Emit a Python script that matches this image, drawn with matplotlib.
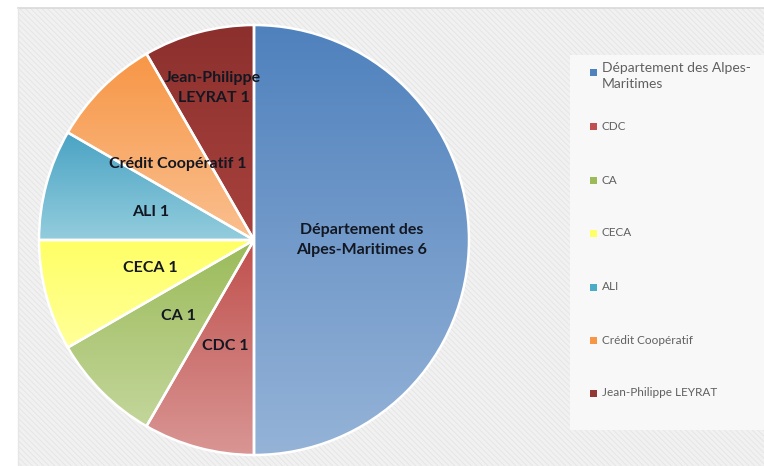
import numpy as np
import matplotlib.pyplot as plt
from matplotlib.colors import to_rgb
from matplotlib.patches import Rectangle

# ----------------------------
# Data
# ----------------------------

categories = [
    "Département des Alpes-Maritimes", "CDC", "CA", "CECA",
    "ALI", "Crédit Coopératif", "Jean-Philippe LEYRAT"
]
values = [6, 1, 1, 1, 1, 1, 1]
slice_labels = [
    "Département des\nAlpes-Maritimes 6", "CDC 1", "CA 1", "CECA 1",
    "ALI 1", "Crédit Coopératif 1", "Jean-Philippe\nLEYRAT 1"
]
legend_labels = [
    "Département des Alpes-\nMaritimes", "CDC", "CA", "CECA",
    "ALI", "Crédit Coopératif", "Jean-Philippe LEYRAT"
]

# gradient colours (top -> bottom of each slice)
top_colors = ["#4f81bd", "#c0504d", "#9bbb59", "#ffff66",
              "#4aa3c4", "#f79646", "#8c302d"]
bottom_colors = ["#95b3d7", "#d99694", "#c3d69b", "#ffff99",
                 "#93cddd", "#fac090", "#a8423e"]
legend_colors = ["#4f81bd", "#c0504d", "#9bbb59", "#ffff66",
                 "#4bacc6", "#f79646", "#943634"]
label_radius = [0.5, 0.51, 0.5, 0.5, 0.5, 0.5, 0.73]

W, H = 764, 466

# ----------------------------
# Figure + background
# ----------------------------

fig = plt.figure(figsize=(W / 100, H / 100), dpi=100)
fig.patch.set_facecolor("white")

plt.rcParams["hatch.linewidth"] = 0.6
bg = Rectangle((18 / W, 0), 1 - 18 / W, (H - 8) / H,
               transform=fig.transFigure, facecolor="#f1f1f1",
               edgecolor="#e4e4e4", hatch="\\\\\\\\\\\\", linewidth=0,
               zorder=-10)
fig.patches.append(bg)
fig.add_artist(plt.Line2D([18 / W, 1], [(H - 8) / H] * 2,
                          transform=fig.transFigure, color="#d9d9d9",
                          lw=1.2, zorder=-9))
fig.add_artist(plt.Line2D([18 / W] * 2, [0, (H - 8) / H],
                          transform=fig.transFigure, color="#e6e6e6",
                          lw=1, zorder=-9))

leg_box = Rectangle((570 / W, (H - 430) / H), 194 / W, 375 / H,
                    transform=fig.transFigure, facecolor="#f8f8f8",
                    edgecolor="none", zorder=-8)
fig.patches.append(leg_box)

# ----------------------------
# Pie
# ----------------------------

ax = fig.add_axes([39 / W, 11 / H, 430 / W, 430 / H])
ax.set_zorder(1)

wedges, _ = ax.pie(values, startangle=90, counterclock=False,
                   wedgeprops=dict(edgecolor="white", linewidth=1.8))

for i, w in enumerate(wedges):
    x0, y0, x1, y1 = w.get_path().get_extents().extents
    c_top = np.array(to_rgb(top_colors[i]))
    c_bot = np.array(to_rgb(bottom_colors[i]))
    t = np.linspace(0, 1, 256)[:, None, None]
    grad = c_top[None, None, :] * (1 - t) + c_bot[None, None, :] * t
    im = ax.imshow(grad, extent=[x0, x1, y0, y1], origin="upper",
                   aspect="auto", zorder=1, interpolation="bilinear")
    im.set_clip_path(w)
    w.set_facecolor("none")
    w.set_zorder(2)

    mid = np.deg2rad((w.theta1 + w.theta2) / 2)
    r = label_radius[i]
    ax.text(r * np.cos(mid), r * np.sin(mid), slice_labels[i],
            ha="center", va="center", fontsize=11.5, fontweight="bold",
            family="Lato", color="#131722", linespacing=1.55, zorder=3)

ax.set_xlim(-1, 1)
ax.set_ylim(-1, 1)
ax.set_aspect("equal")
ax.axis("off")

# ----------------------------
# Legend
# ----------------------------

leg_y = [72, 126, 180, 233, 287, 340, 393]
for i, lab in enumerate(legend_labels):
    y = 1 - leg_y[i] / H
    fig.patches.append(Rectangle((590 / W, y - 3.5 / H), 7 / W, 7 / H,
                                 transform=fig.transFigure,
                                 facecolor=legend_colors[i], edgecolor="none",
                                 zorder=2))
    fs = 10 if i == 0 else 8.5
    fig.text(602 / W, y + (10 / H if i == 0 else 0), lab,
             ha="left", va="top" if i == 0 else "center",
             fontsize=fs, family="Lato", color="#606060", linespacing=1.35)

plt.savefig("out.png", dpi=100)
